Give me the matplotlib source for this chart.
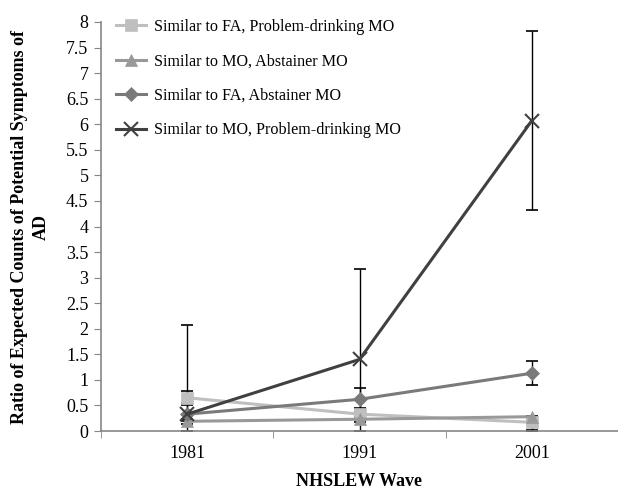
import matplotlib.pyplot as plt
import numpy as np

plt.rcParams['font.family'] = ['Liberation Serif', 'DejaVu Serif']

waves = ['1981', '1991', '2001']
labels = ['Similar to FA, Problem-drinking MO',
          'Similar to MO, Abstainer MO',
          'Similar to FA, Abstainer MO',
          'Similar to MO, Problem-drinking MO']

# ratio values per wave
fa_prob = [0.65, 0.33, 0.17]
mo_abst = [0.19, 0.23, 0.28]
fa_abst = [0.33, 0.62, 1.13]
mo_prob = [0.33, 1.40, 6.07]

# confidence limits (lower, upper)
fa_prob_lo = [0.55, 0.26, 0.02]
fa_prob_hi = [0.78, 0.38, 0.22]
mo_abst_lo = [0.14, 0.18, 0.0]
mo_abst_hi = [0.24, 0.28, 0.30]
fa_abst_lo = [0.20, 0.45, 0.90]
fa_abst_hi = [0.50, 0.85, 1.37]
mo_prob_lo = [0.0, 0.0, 4.32]
mo_prob_hi = [2.08, 3.17, 7.83]

x = np.arange(len(waves))

fig = plt.figure(figsize=(6.18, 4.92), dpi=100)
ax = fig.add_axes([101/618, 1-431/492, 1-101/618, (431-22)/492])

series = [
    (fa_prob, fa_prob_lo, fa_prob_hi, '#bfbfbf', 's', 8),
    (mo_abst, mo_abst_lo, mo_abst_hi, '#999999', '^', 9),
    (fa_abst, fa_abst_lo, fa_abst_hi, '#7a7a7a', 'D', 7),
    (mo_prob, mo_prob_lo, mo_prob_hi, '#404040', 'x', 10),
]

# error bars first (black), then lines on top
for vals, lo, hi, col, mk, ms in series:
    v = np.array(vals)
    err = [v - np.array(lo), np.array(hi) - v]
    ax.errorbar(x, v, yerr=err, fmt='none', ecolor='black', elinewidth=1,
                capsize=4, capthick=1.2, zorder=2)

for (vals, lo, hi, col, mk, ms), lab in zip(series, labels):
    ax.plot(x, vals, color=col, marker=mk, markersize=ms, linewidth=2.2,
            markeredgewidth=1.5 if mk == 'x' else 0.5, label=lab, zorder=3)

ax.set_xlim(-0.5, 2.454)
ax.set_ylim(0, 8)
ax.set_yticks(np.arange(0, 8.01, 0.5))
ax.set_yticklabels(['0', '0.5', '1', '1.5', '2', '2.5', '3', '3.5', '4',
                    '4.5', '5', '5.5', '6', '6.5', '7', '7.5', '8'])
ax.set_xticks(x)
ax.set_xticklabels(waves)
ax.set_xticks([-0.5, 0.5, 1.5, 2.5], minor=True)
ax.tick_params(axis='x', which='major', length=0, labelsize=13, pad=10)
ax.tick_params(axis='x', which='minor', length=5, color='#868686', direction='out')
ax.tick_params(axis='y', length=5, color='#868686', labelsize=13, pad=4)

for s in ['top', 'right']:
    ax.spines[s].set_visible(False)
for s in ['left', 'bottom']:
    ax.spines[s].set_color('#868686')
    ax.spines[s].set_linewidth(1.2)

ax.set_xlabel('NHSLEW Wave', fontsize=13, fontweight='bold', labelpad=8)
ax.set_ylabel('Ratio of Expected Counts of Potential Symptoms of\nAD',
              fontsize=13, fontweight='bold', labelpad=12, linespacing=1.3)

ax.legend(loc='upper left', bbox_to_anchor=(0.0, 1.043), frameon=False,
          fontsize=11.6, labelspacing=1.15, handlelength=1.9, handletextpad=0.5)

fig.savefig('out.png', dpi=100)
